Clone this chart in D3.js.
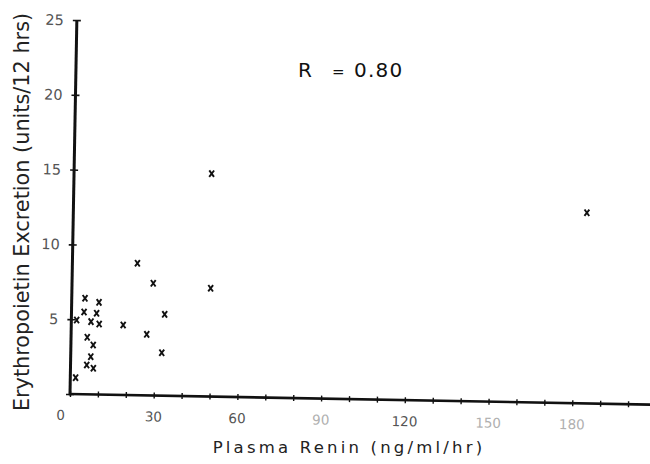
<!DOCTYPE html>
<html>
<head>
<meta charset="utf-8">
<script src="https://cdn.jsdelivr.net/npm/d3@7"></script>
<style>
  html, body { margin: 0; padding: 0; background: #fff; }
  svg { display: block; }
  text { font-family: "DejaVu Sans", sans-serif; }
</style>
</head>
<body>
<svg id="chart" width="650" height="464"></svg>
<script>
// Plasma renin activity (ng/ml/hr) against erythropoietin excretion (units/12 hrs)
const renin = [23.3, 29.1, 49.7, 49.3, 184.0, 4.75, 9.8, 4.5, 1.9, 9.0, 7.05,
               10.0, 18.6, 33.4, 27.1, 5.8, 8.0, 32.6, 7.2, 5.8, 8.2, 1.9];
const epo   = [8.82, 7.5, 7.24, 14.9, 12.75, 6.42, 6.16, 5.5, 4.95, 5.43, 4.86,
               4.71, 4.68, 5.44, 4.08, 3.81, 3.3, 2.87, 2.52, 1.96, 1.75, 1.1];

const xTicks = d3.range(0, 220, 10);          // minor tick every 10
const xTickLabels = [0, 30, 60, 90, 120, 150, 180];
const yTicks = [0, 5, 10, 15, 20, 25];
const yTickLabels = ["", "5", "10", "15", "20", "25"];

const xTitle = "Plasma Renin (ng/ml/hr)";
const yTitle = "Erythropoietin Excretion (units/12 hrs)";
const annotation = ["R", "=", "0.80"];

const svg = d3.select("#chart");

// Plot frame, origin at the axis corner; the printed figure sits slightly skewed
const origin = { x: 70, y: 394 };
const tilt = 1.05;
const plot = svg.append("g")
  .attr("transform", `translate(${origin.x},${origin.y}) rotate(${tilt})`);

const x = d3.scaleLinear().domain([0, 215]).range([0, 600]);
const y = d3.scaleLinear().domain([0, 25]).range([0, -374]);

// X axis
const xAxis = plot.append("g")
  .call(d3.axisBottom(x).tickValues(xTicks).tickSize(3).tickFormat(""));
xAxis.select(".domain").remove();
xAxis.selectAll(".tick line").attr("y1", -3).attr("y2", 3)
  .attr("stroke", "#111").attr("stroke-width", 1.4);
plot.append("line")
  .attr("x1", x(0) - 1).attr("x2", x(215)).attr("y1", 0).attr("y2", 0)
  .attr("stroke", "#111").attr("stroke-width", 2.6);

plot.append("g").selectAll("text")
  .data(xTickLabels)
  .join("text")
  .attr("x", d => x(d) + (d === 0 ? -9 : 0))
  .attr("y", 26)
  .attr("text-anchor", "middle")
  .attr("font-size", 13.5)
  .attr("fill", d => (d === 90 || d === 150 || d === 180) ? "#b0b0b0" : "#555")
  .text(d => d);

// Y axis
const yAxis = plot.append("g")
  .call(d3.axisLeft(y).tickValues(yTicks).tickSize(4).tickFormat(""));
yAxis.select(".domain").remove();
yAxis.selectAll(".tick line").attr("x1", -4).attr("x2", 4)
  .attr("stroke", "#111").attr("stroke-width", 1.6);
plot.append("line")
  .attr("x1", 0).attr("x2", 0).attr("y1", y(0) + 1.3).attr("y2", y(25))
  .attr("stroke", "#111").attr("stroke-width", 3);

plot.append("g").selectAll("text")
  .data(yTicks)
  .join("text")
  .attr("x", -13)
  .attr("y", d => y(d))
  .attr("dy", "0.36em")
  .attr("text-anchor", "end")
  .attr("font-size", 14.5)
  .attr("fill", "#555")
  .text((d, i) => yTickLabels[i]);

// Points, drawn as small crosses
const pts = renin.map((r, i) => [r, epo[i]]);
plot.append("g").selectAll("path")
  .data(pts)
  .join("path")
  .attr("transform", d => `translate(${x(d[0])},${y(d[1])})`)
  .attr("d", "M-2.4,-3.2L2.4,3.2M2.4,-3.2L-2.4,3.2")
  .attr("stroke", "#111")
  .attr("stroke-width", 1.9)
  .attr("fill", "none");

// Axis titles
svg.append("text")
  .attr("x", 349).attr("y", 453)
  .attr("text-anchor", "middle")
  .attr("font-size", 16.5)
  .attr("letter-spacing", 3.2)
  .attr("fill", "#222")
  .text(xTitle);

svg.append("text")
  .attr("transform", "translate(28.5,212) rotate(-90)")
  .attr("text-anchor", "middle")
  .attr("font-size", 20.8)
  .attr("fill", "#222")
  .text(yTitle);

// Correlation coefficient
const ann = svg.append("text")
  .attr("y", 77)
  .attr("font-size", 20)
  .attr("fill", "#111");
ann.append("tspan").attr("x", 298).text(annotation[0]);
ann.append("tspan").attr("x", 332).attr("font-size", 15).text(annotation[1]);
ann.append("tspan").attr("x", 354).attr("letter-spacing", 1.2).text(annotation[2]);
</script>
</body>
</html>
